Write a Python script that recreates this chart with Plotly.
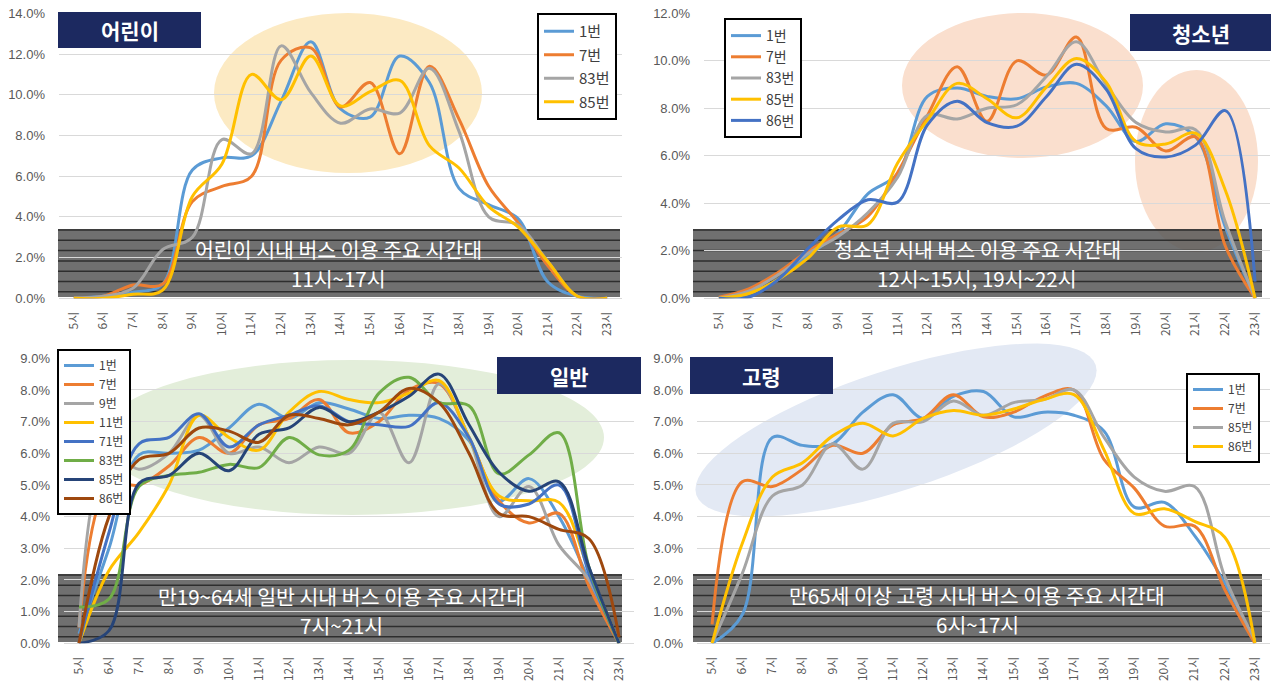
import math
import plotly.graph_objects as go

W, H = 1271, 685

hours = ["5시", "6시", "7시", "8시", "9시", "10시", "11시", "12시", "13시", "14시",
         "15시", "16시", "17시", "18시", "19시", "20시", "21시", "22시", "23시"]

# ---- 어린이 (children) ----
child_routes = ["1번", "7번", "83번", "85번"]
child_1 = [0, 0.1, 0.3, 0.7, 6.3, 6.9, 7.0, 9.7, 12.6, 9.3, 8.9, 11.9, 10.6, 5.4, 4.6, 3.9, 0.8, 0.1, 0]
child_7 = [0, 0.1, 0.65, 0.7, 4.75, 5.5, 6.0, 11.7, 12.3, 9.4, 10.6, 7.1, 11.4, 8.8, 5.5, 3.7, 1.6, 0.1, 0]
child_83 = [0, 0.1, 0.5, 2.4, 3.0, 7.8, 7.1, 12.4, 10.1, 8.6, 9.3, 9.1, 11.3, 8.2, 4.0, 3.6, 1.8, 0.1, 0]
child_85 = [0, 0, 0.2, 0.4, 5.0, 6.6, 11.0, 9.75, 11.9, 9.45, 10.15, 10.7, 7.5, 6.4, 4.5, 3.5, 1.8, 0.1, 0]

# ---- 청소년 (teens) ----
teen_routes = ["1번", "7번", "83번", "85번", "86번"]
teen_1 = [0, 0.2, 0.8, 1.8, 2.75, 4.4, 5.25, 8.5, 8.85, 8.5, 8.4, 8.9, 9.05, 8.1, 6.6, 7.35, 6.8, 3.0, 0]
teen_7 = [0.05, 0.4, 1.1, 2.0, 2.7, 3.45, 5.3, 7.7, 9.75, 7.45, 10.0, 9.4, 11.0, 7.15, 7.2, 6.2, 6.8, 2.2, 0]
teen_83 = [0, 0.3, 1.0, 1.9, 2.6, 3.6, 5.1, 7.7, 7.55, 8.0, 8.15, 9.35, 10.8, 9.0, 7.4, 7.0, 7.1, 3.2, 0]
teen_85 = [0, 0.2, 0.8, 1.7, 3.0, 3.1, 5.7, 7.5, 9.05, 8.4, 7.6, 8.9, 10.1, 9.1, 6.6, 6.5, 6.95, 4.55, 0]
teen_86 = [0, 0.05, 0.8, 2.1, 3.3, 4.15, 4.05, 7.3, 8.3, 7.4, 7.25, 8.5, 9.85, 8.8, 6.3, 5.95, 6.45, 7.9, 0.7]

# ---- 일반 (general) ----
gen_routes = ["1번", "7번", "9번", "11번", "71번", "83번", "85번", "86번"]
gen_1 = [0.3, 3.0, 5.95, 6.0, 6.1, 6.8, 7.55, 7.1, 7.6, 7.4, 7.1, 7.2, 7.1, 6.4, 4.5, 5.2, 4.0, 2.0, 0]
gen_7 = [0.5, 5.0, 5.0, 5.6, 6.5, 6.0, 6.9, 7.1, 7.7, 6.65, 7.0, 8.0, 8.2, 6.5, 4.5, 3.8, 4.1, 1.8, 0]
gen_9 = [0.5, 6.0, 5.5, 6.0, 7.2, 6.0, 6.2, 5.7, 6.2, 6.0, 7.3, 5.7, 8.2, 6.5, 4.0, 4.95, 3.1, 2.0, 0]
gen_11 = [0, 2.3, 3.5, 5.0, 7.2, 6.5, 6.1, 7.3, 7.95, 7.7, 7.6, 7.9, 8.3, 6.5, 4.65, 4.5, 4.45, 2.3, 0]
gen_71 = [0, 3.5, 6.3, 6.5, 7.25, 6.2, 6.9, 7.2, 7.5, 7.0, 6.9, 6.85, 7.6, 6.5, 4.4, 4.4, 5.0, 2.2, 0]
gen_83 = [1.15, 1.4, 4.95, 5.3, 5.4, 5.65, 5.55, 6.5, 5.95, 6.1, 7.9, 8.4, 7.6, 7.5, 5.35, 5.95, 6.65, 2.4, 0]
gen_85 = [0, 0.4, 5.05, 5.3, 6.0, 5.45, 6.6, 6.8, 7.45, 7.0, 7.3, 7.8, 8.5, 6.9, 5.4, 4.8, 5.1, 2.4, 0]
gen_86 = [0, 4.0, 5.8, 6.0, 6.8, 6.7, 6.35, 7.2, 7.1, 6.9, 7.3, 8.05, 7.6, 6.0, 4.1, 4.0, 3.6, 3.3, 0.2]

# ---- 고령 (elderly) ----
old_routes = ["1번", "7번", "85번", "86번"]
old_1 = [0, 0.9, 6.5, 6.25, 6.3, 7.3, 7.85, 7.1, 7.8, 7.95, 7.15, 7.3, 7.2, 6.7, 4.3, 4.45, 3.4, 1.9, 0]
old_7 = [0.6, 5.1, 4.95, 5.5, 6.25, 6.0, 6.9, 7.1, 7.85, 7.15, 7.3, 7.8, 8.0, 5.8, 4.9, 3.7, 3.7, 1.7, 0]
old_85 = [0, 2.2, 4.65, 5.0, 6.3, 5.5, 6.95, 7.0, 7.65, 7.2, 7.6, 7.7, 8.0, 6.5, 5.25, 4.8, 4.95, 2.1, 0.1]
old_86 = [0, 3.15, 5.25, 5.7, 6.55, 6.95, 6.55, 7.1, 7.35, 7.2, 7.4, 7.7, 7.85, 6.1, 4.1, 4.25, 3.85, 3.35, 0]

BLUE1, ORANGE, GREY, YELLOW = "#5B9BD5", "#ED7D31", "#A5A5A5", "#FFC000"
BLUE2, GREEN, NAVY, BROWN = "#4472C4", "#70AD47", "#264478", "#9E480E"

panels = [
    dict(name="어린이", series=[child_1, child_7, child_83, child_85], routes=child_routes,
         colors=[BLUE1, ORANGE, GREY, YELLOW], ymax=14, dtick=2,
         px=(59, 622, 13.3, 298.3), legend=(537, 13, 15, 1)),
    dict(name="청소년", series=[teen_1, teen_7, teen_83, teen_85, teen_86], routes=teen_routes,
         colors=[BLUE1, ORANGE, GREY, YELLOW, BLUE2], ymax=12, dtick=2,
         px=(704, 1270, 13.3, 298.3), legend=(724, 18, 14, 0)),
    dict(name="일반", series=[gen_1, gen_7, gen_9, gen_11, gen_71, gen_83, gen_85, gen_86], routes=gen_routes,
         colors=[BLUE1, ORANGE, GREY, YELLOW, BLUE2, GREEN, NAVY, BROWN], ymax=9, dtick=1,
         px=(64, 634, 358.3, 643.3), legend=(57, 349, 12, 0)),
    dict(name="고령", series=[old_1, old_7, old_85, old_86], routes=old_routes,
         colors=[BLUE1, ORANGE, GREY, YELLOW], ymax=9, dtick=1,
         px=(697, 1270, 358.3, 643.3), legend=(1186, 373, 12, 0)),
]


def px(x, y):
    return x / W, 1 - y / H


fig = go.Figure()
layout = dict(
    width=W, height=H, margin=dict(l=0, r=0, t=0, b=0, autoexpand=False),
    paper_bgcolor="white", plot_bgcolor="rgba(0,0,0,0)",
    font=dict(family="Noto Sans CJK KR", color="#595959"),
    showlegend=True,
)

for i, p in enumerate(panels):
    n = i + 1
    sfx = "" if n == 1 else str(n)
    lg = "legend" if n == 1 else f"legend{n}"
    x0, x1, yt, yb = p["px"]
    for j, (vals, route, col) in enumerate(zip(p["series"], p["routes"], p["colors"])):
        fig.add_trace(go.Scatter(
            x=hours, y=vals, name=route, mode="lines",
            line=dict(color=col, width=3, shape="spline", smoothing=1.0),
            xaxis=f"x{sfx}", yaxis=f"y{sfx}", legend=lg,
            legendgroup=f"p{n}_{j}", hoverinfo="skip"))
    layout[f"xaxis{sfx}"] = dict(
        domain=[x0 / W, x1 / W], anchor=f"y{sfx}", type="category",
        range=[-0.5, 18.5], tickangle=-90, showgrid=False, showline=False,
        ticks="", ticklabelstandoff=10, automargin=False,
        tickfont=dict(size=12, color="#595959", family="Noto Sans CJK KR"))
    layout[f"yaxis{sfx}"] = dict(
        domain=[1 - yb / H, 1 - yt / H], anchor=f"x{sfx}", range=[0, p["ymax"]],
        dtick=p["dtick"], tick0=0, tickformat=".1f", ticksuffix="%",
        showgrid=True, gridcolor="#D9D9D9", gridwidth=1,
        zeroline=True, zerolinecolor="#D9D9D9", zerolinewidth=1,
        showline=False, ticks="", ticklabelstandoff=13, automargin=False,
        tickfont=dict(size=13, color="#595959", family="Liberation Sans"))
    lx, ly, lfs, gap = p["legend"]
    lxp, lyp = px(lx, ly)
    layout[lg] = dict(
        x=lxp, y=lyp, xanchor="left", yanchor="top", xref="paper", yref="paper",
        bgcolor="white", bordercolor="black", borderwidth=2,
        font=dict(size=lfs, color="#404040", family="Noto Sans CJK KR"),
        traceorder="grouped", tracegroupgap=gap, itemwidth=30,
        itemclick=False, itemdoubleclick=False)

shapes = []
annotations = []


def ellipse(xa, xb, ya, yb, color):
    a0, b0 = px(xa, ya)
    a1, b1 = px(xb, yb)
    shapes.append(dict(type="circle", xref="paper", yref="paper",
                       x0=a0, x1=a1, y0=b1, y1=b0, fillcolor=color,
                       line=dict(width=0), layer="below"))


ellipse(214, 482, 13, 173, "#FCEAC3")
ellipse(902, 1143, 13, 158, "#FADFCE")
ellipse(1135, 1258, 70, 252, "#FADFCE")
ellipse(100, 604, 360, 515, "#E3EEDA")

# tilted ellipse (고령)
cx, cy, ea, eb, th = 896, 430, 210, 60, math.radians(18)
pts = []
for k in range(0, 73):
    t = math.radians(k * 5)
    ex = cx + ea * math.cos(t) * math.cos(th) - eb * math.sin(t) * math.sin(th)
    ey = cy - (ea * math.cos(t) * math.sin(th) + eb * math.sin(t) * math.cos(th))
    qx, qy = px(ex, ey)
    pts.append(f"{qx:.5f},{qy:.5f}")
shapes.append(dict(type="path", xref="paper", yref="paper",
                   path="M" + " L".join(pts) + " Z", fillcolor="#E3E9F4",
                   line=dict(width=0), layer="below"))

bands = [
    ((58, 620, 229, 297), "어린이 시내 버스 이용 주요 시간대", "11시~17시", 338, 249, 278),
    ((693, 1262, 229, 297), "청소년 시내 버스 이용 주요 시간대", "12시~15시, 19시~22시", 977, 249, 278),
    ((58, 622, 574, 642), "만19~64세 일반 시내 버스 이용 주요 시간대", "7시~21시", 341, 596, 625),
    ((693, 1262, 574, 642), "만65세 이상 고령 시내 버스 이용 주요 시간대", "6시~17시", 977, 595, 624),
]
for (bx0, bx1, by0, by1), t1, t2, tx, ty1, ty2 in bands:
    a0, b0 = px(bx0, by0)
    a1, b1 = px(bx1, by1)
    shapes.append(dict(type="rect", xref="paper", yref="paper", x0=a0, x1=a1, y0=b1, y1=b0,
                       fillcolor="rgba(88,88,88,0.86)", line=dict(width=0), layer="below"))
    segs = []
    yy = by0 + 1
    while yy < by1:
        p0 = px(bx0, yy)
        p1 = px(bx1, yy)
        segs.append(f"M{p0[0]:.5f},{p0[1]:.5f} L{p1[0]:.5f},{p1[1]:.5f}")
        yy += 10.3
    shapes.append(dict(type="path", xref="paper", yref="paper", path=" ".join(segs),
                       line=dict(color="#2E2E2E", width=1.5), layer="below"))
    for txt, ty in ((t1, ty1), (t2, ty2)):
        qx, qy = px(tx, ty)
        annotations.append(dict(xref="paper", yref="paper", x=qx, y=qy, text=txt, showarrow=False,
                                xanchor="center", yanchor="middle", align="center", borderpad=0,
                                font=dict(size=20.5, color="white", family="Noto Sans CJK KR")))

titles = [
    ((58, 201, 12, 48), "어린이"),
    ((1130, 1271, 14, 51), "청소년"),
    ((497, 641, 357, 394), "일반"),
    ((690, 833, 357, 394), "고령"),
]
for (bx0, bx1, by0, by1), txt in titles:
    a0, b0 = px(bx0, by0)
    a1, b1 = px(bx1, by1)
    shapes.append(dict(type="rect", xref="paper", yref="paper", x0=a0, x1=a1, y0=b1, y1=b0,
                       fillcolor="#1C2960", line=dict(width=0), layer="above"))
    qx, qy = px((bx0 + bx1) / 2, (by0 + by1) / 2)
    annotations.append(dict(xref="paper", yref="paper", x=qx, y=qy, text=f"<b>{txt}</b>",
                            showarrow=False, xanchor="center", yanchor="middle",
                            font=dict(size=21, color="white", family="Noto Sans CJK KR")))

layout["shapes"] = shapes
layout["annotations"] = annotations
fig.update_layout(**layout)
fig.write_html("out.html", config={"displayModeBar": False},
               post_script="document.body.style.margin='0px';document.body.style.overflow='hidden';")
